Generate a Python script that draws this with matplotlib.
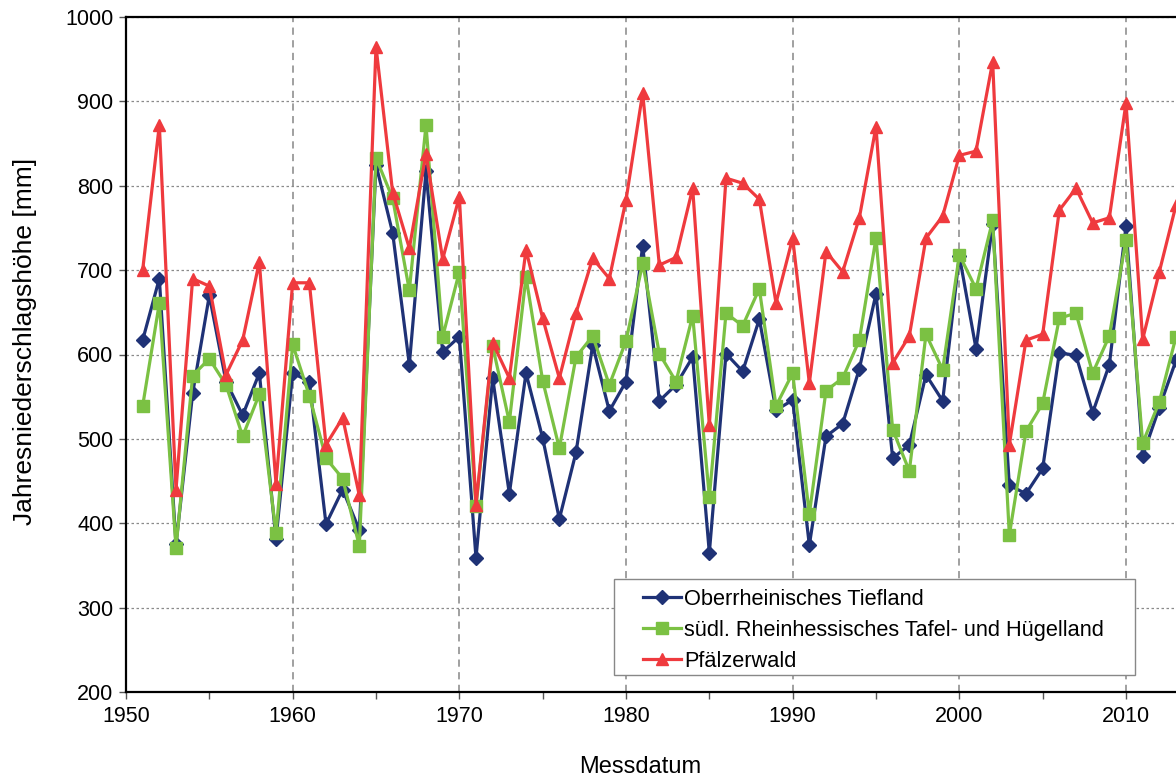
import matplotlib
matplotlib.use("Agg")
import matplotlib.pyplot as plt
from matplotlib.ticker import MultipleLocator
from matplotlib.patches import Rectangle

years = list(range(1951, 2014))

oberrhein = [617, 690, 375, 554, 670, 568, 528, 578, 381, 578,
             568, 399, 440, 392, 825, 744, 588, 817, 603, 621,
             359, 572, 435, 578, 501, 405, 484, 611, 533, 568,
             729, 545, 564, 597, 365, 601, 580, 642, 534, 546,
             374, 503, 518, 583, 672, 477, 493, 576, 545, 717,
             607, 755, 445, 435, 465, 602, 599, 531, 588, 752,
             480, 537, 593]

rheinhessen = [539, 661, 371, 575, 595, 564, 503, 553, 388, 612,
               551, 477, 453, 373, 833, 785, 676, 872, 621, 698,
               420, 610, 520, 692, 569, 489, 597, 622, 564, 616,
               708, 601, 568, 646, 431, 649, 634, 678, 539, 578,
               411, 557, 572, 617, 738, 511, 462, 624, 582, 718,
               678, 759, 386, 509, 542, 643, 649, 578, 622, 736,
               495, 544, 621]

pfaelzerwald = [700, 872, 440, 690, 681, 576, 617, 710, 447, 685,
                685, 493, 525, 433, 965, 792, 726, 838, 713, 787,
                422, 614, 572, 724, 643, 572, 649, 714, 690, 783,
                910, 706, 715, 797, 516, 809, 803, 784, 661, 738,
                566, 722, 698, 762, 870, 590, 622, 738, 764, 836,
                841, 947, 493, 617, 624, 771, 797, 756, 762, 898,
                618, 698, 777]

labels = ["Oberrheinisches Tiefland",
          "südl. Rheinhessisches Tafel- und Hügelland",
          "Pfälzerwald"]

plt.rcParams['font.family'] = ['Liberation Sans', 'DejaVu Sans']

W, H = 1176, 781
fig = plt.figure(figsize=(W / 100, H / 100), dpi=100)
ax = fig.add_axes([126 / W, (H - 692) / H, (W - 126) / W, (692 - 17) / H])

ax.plot(years, oberrhein, color='#1F3276', lw=2.3, marker='D', ms=7.5,
        label=labels[0], zorder=3)
ax.plot(years, rheinhessen, color='#7BC143', lw=2.3, marker='s', ms=8,
        label=labels[1], zorder=4)
ax.plot(years, pfaelzerwald, color='#EF3A3E', lw=2.3, marker='^', ms=9,
        label=labels[2], zorder=5)

ax.set_xlim(1950, 2013.0)
ax.set_ylim(200, 1000)
ax.xaxis.set_major_locator(MultipleLocator(10))
ax.xaxis.set_minor_locator(MultipleLocator(5))
ax.yaxis.set_major_locator(MultipleLocator(100))

ax.grid(axis='y', which='major', color='#8a8a8a', linestyle=(0, (2, 2)), lw=0.9, zorder=1)
ax.grid(axis='x', which='major', color='#999999', linestyle=(0, (4, 3)), lw=1.3, zorder=1)

ax.tick_params(axis='both', which='both', direction='out', color='#555555',
               labelsize=15.5, length=5, width=1)
ax.tick_params(axis='x', pad=5)
ax.tick_params(axis='y', pad=4)

for s in ['left', 'bottom', 'top']:
    ax.spines[s].set_linewidth(1.6)
    ax.spines[s].set_color('black')
ax.spines['right'].set_visible(False)

ax.set_xlabel("Messdatum", fontsize=17)
ax.set_ylabel("Jahresniederschlagshöhe [mm]", fontsize=19)
ax.xaxis.set_label_coords((640 - 126) / 1050, -(767 - 692) / 675)
ax.yaxis.set_label_coords((25 - 126) / 1050, (692 - 341) / 675)
ax.xaxis.label.set_va('center')
ax.yaxis.label.set_va('center')

def ax_x(px):
    return (px - 126) / 1050

def ax_y(py):
    return (692 - py) / 675

frame = Rectangle((ax_x(614), ax_y(675)), ax_x(1135) - ax_x(614), ax_y(579) - ax_y(675),
                  transform=ax.transAxes, facecolor='white', edgecolor='#888888',
                  lw=1.0, zorder=9)
ax.add_patch(frame)

leg = ax.legend(loc='upper left', bbox_to_anchor=(ax_x(643), ax_y(589)),
                borderaxespad=0, frameon=False, fontsize=15.7, handlelength=1.75,
                handletextpad=0.15, labelspacing=0.45, borderpad=0.0)
leg.set_zorder(10)

fig.savefig("out.png", dpi=100)
